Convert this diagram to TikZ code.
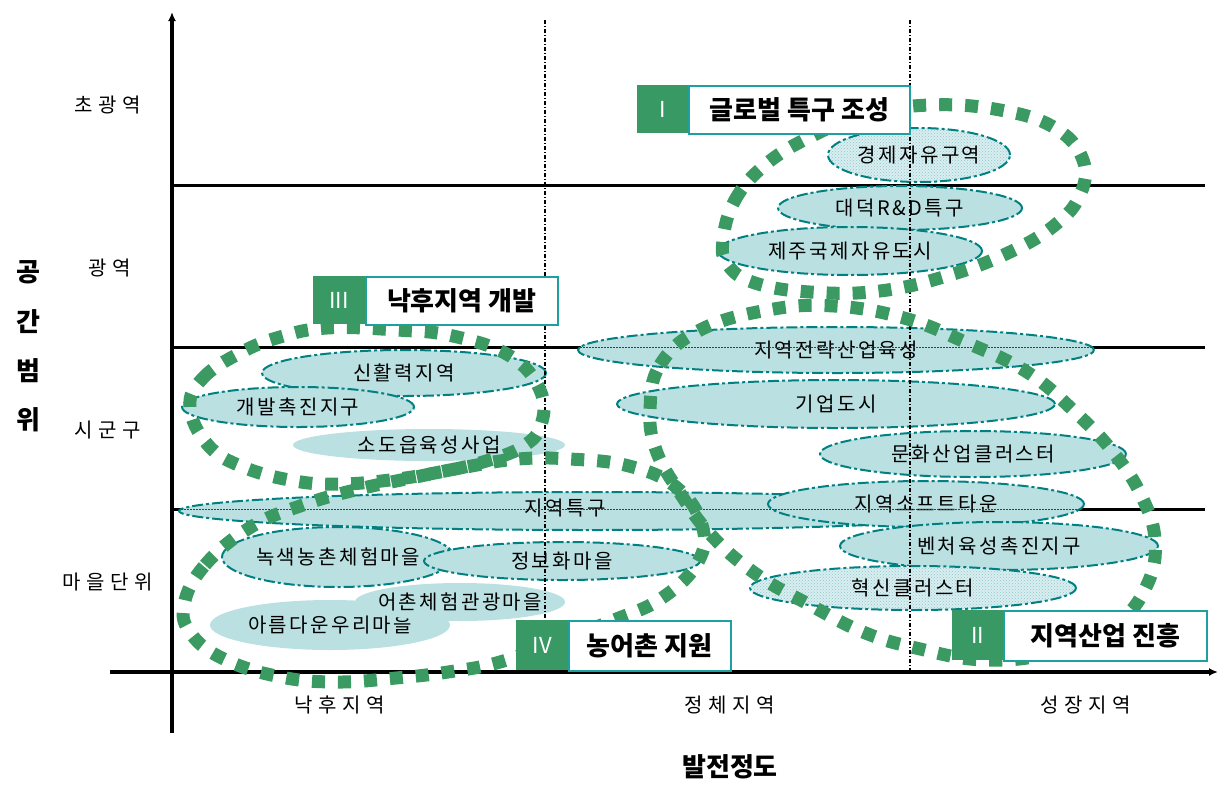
\documentclass[tikz,border=0pt]{standalone}
\usepackage{fontspec}
\setmainfont{Noto Sans CJK KR}
\newfontfamily\regfont{Noto Sans CJK KR}[LetterSpace=12]
\newfontfamily\axfont{Noto Sans CJK KR}[LetterSpace=28]
\usetikzlibrary{shapes.geometric,arrows.meta,patterns}
\definecolor{dotgreen}{RGB}{58,154,98}
\definecolor{boxgreen}{RGB}{56,153,100}
\definecolor{ellfill}{RGB}{186,224,226}
\definecolor{ellline}{RGB}{0,128,128}
\definecolor{patfill}{RGB}{218,238,240}
\definecolor{patdot}{RGB}{140,200,205}
\definecolor{boxline}{RGB}{30,160,160}
\tikzset{
  axisline/.style={line width=3.5pt, -{Latex[length=9pt,width=8pt]}},
  gridline/.style={line width=3pt, black},
  seethru/.style={line width=1pt, black!75, dash pattern=on 1.5pt off 1.5pt},
  vdash/.style={line width=1.1pt, dash pattern=on 4pt off 2pt on 1pt off 2pt},
  regbase/.style={ellipse, inner ysep=0pt, inner xsep=-30pt, font=\regfont\fontsize{20}{20}\selectfont},
  reg/.style={regbase, fill=ellfill, draw=ellline, line width=2pt,
    dash pattern=on 11pt off 3pt on 3pt off 3pt},
  regplain/.style={regbase, fill=ellfill},
  regpat/.style={regbase, preaction={fill=patfill}, pattern=crosshatch dots,
    pattern color=patdot, draw=ellline, line width=2pt,
    dash pattern=on 11pt off 3pt on 3pt off 3pt},
  loopdots/.style={draw=dotgreen, line width=13pt, dash pattern=on 13pt off 13pt},
  numbox/.style={fill=boxgreen, inner sep=0pt, minimum height=48pt, anchor=north west,
    text=white, font=\fontsize{22}{22}\selectfont},
  titlebox/.style={draw=boxline, fill=white, line width=1.5pt, inner sep=0pt,
    minimum height=48pt, anchor=north west, font=\bfseries\fontsize{26}{26}\selectfont},
  axtext/.style={font=\axfont\fontsize{20}{20}\selectfont},
  axtitle/.style={font=\bfseries\fontsize{26}{26}\selectfont},
}
\begin{document}
\begin{tikzpicture}[x=1pt,y=-1pt]
\useasboundingbox (0,0) rectangle (1223,798);

% axes and grid
\coordinate (yb) at (172,733);
\coordinate (yt) at (172,12);
\coordinate (xl) at (110,672);
\coordinate (xr) at (1218,672);
\coordinate (gaL) at (172,185);
\coordinate (gaR) at (1205,185);
\coordinate (gbL) at (172,347);
\coordinate (gbR) at (1205,347);
\coordinate (gcL) at (172,509);
\coordinate (gcR) at (1205,509);
\draw[gridline] (gaL) -- (gaR);
\draw[gridline] (gbL) -- (gbR);
\draw[gridline] (gcL) -- (gcR);
\draw[axisline] (yb) -- (yt);
\draw[axisline] (xl) -- (xr);

% region ellipses
\node[regplain, minimum width=272pt, minimum height=32pt] (e13) at (429,445) {소도읍육성사업};
\node[regplain, minimum width=240pt, minimum height=50pt] (e16) at (330,625) {아름다운우리마을};
\node[regplain, minimum width=210pt, minimum height=38pt] (e17) at (460,602) {어촌체험관광마을};

\node[regpat, minimum width=182pt, minimum height=54pt] (e1) at (919,155) {경제자유구역};
\node[reg, minimum width=244pt, minimum height=44pt] (e2) at (900,208) {대덕R\&D특구};
\node[reg, minimum width=264pt, minimum height=48pt] (e3) at (850,251) {제주국제자유도시};
\node[reg, minimum width=516pt, minimum height=46pt] (e4) at (836,350) {지역전략산업육성};
\node[reg, minimum width=438pt, minimum height=48pt] (e5) at (836,404) {기업도시};
\node[reg, minimum width=306pt, minimum height=46pt] (e6) at (973,454) {문화산업클러스터};
\node[reg, minimum width=822pt, minimum height=38pt] (e7) at (590,511) {};
\node[reg, minimum width=316pt, minimum height=46pt] (e8) at (926,504) {지역소프트타운};
\node[reg, minimum width=318pt, minimum height=48pt] (e9) at (999,546) {벤처육성촉진지구};
\node[regpat, minimum width=326pt, minimum height=44pt] (e10) at (913,588) {혁신클러스터};
\node[reg, minimum width=284pt, minimum height=46pt] (e11) at (404,373) {신활력지역};
\node[reg, minimum width=232pt, minimum height=40pt] (e12) at (298,407) {개발촉진지구};
\node[reg, minimum width=232pt, minimum height=60pt] (e14) at (338,557) {녹색농촌체험마을};
\node[reg, minimum width=276pt, minimum height=38pt] (e15) at (562,561) {정보화마을};
\node[font=\regfont\fontsize{20}{20}\selectfont] (e7t) at (565,508) {지역특구};

% lines showing through the regions
\begin{scope}
  \clip (e4.center) ellipse [x radius=258pt, y radius=23pt]
        (e1.center) ellipse [x radius=91pt, y radius=27pt]
        (e2.center) ellipse [x radius=122pt, y radius=22pt]
        (e7.center) ellipse [x radius=411pt, y radius=19pt]
        (e8.center) ellipse [x radius=158pt, y radius=23pt];
  \draw[seethru] (gaL) -- (gaR);
  \draw[seethru] (gbL) -- (gbR);
  \draw[seethru] (gcL) -- (gcR);
\end{scope}
\coordinate (va) at (545,20);
\coordinate (vab) at (545,672);
\coordinate (vb) at (910,20);
\coordinate (vbb) at (910,672);
\draw[vdash] (va) -- (vab);
\draw[vdash] (vb) -- (vbb);

% dotted loops
\draw[loopdots] plot[smooth cycle, tension=0.7] coordinates {
  (723,240) (735,200) (765,165) (810,137) (865,115) (930,105) (1000,110) (1055,128)
  (1083,160) (1080,195) (1055,225) (1010,252) (950,275) (880,291) (810,292) (755,283) (728,265)};
\draw[loopdots] plot[smooth cycle, tension=0.7] coordinates {
  (650,410) (660,365) (700,330) (768,310) (834,306) (904,318) (965,342) (1027,372)
  (1075,412) (1113,452) (1141,495) (1155,540) (1147,585) (1115,625) (1055,652) (985,660)
  (916,648) (863,632) (810,605) (756,574) (711,535) (678,490) (656,450)};
\draw[loopdots] plot[smooth cycle, tension=0.7] coordinates {
  (190,407) (203,378) (240,353) (280,337) (327,328) (397,330) (453,336) (510,356)
  (540,390) (541,425) (522,447) (483,462) (440,472) (390,480) (340,484) (295,481)
  (243,467) (208,445)};
\draw[loopdots] plot[smooth cycle, tension=0.7] coordinates {
  (184,605) (205,565) (251,527) (303,505) (355,490) (411,478) (466,467) (518,459)
  (570,459) (629,466) (676,487) (702,525) (698,562) (662,598) (614,620) (560,640)
  (500,662) (448,672) (396,678) (337,682) (281,677) (226,660) (192,635)};

% group boxes
\node[numbox, minimum width=51pt] (n1) at (637,85) {I};
\node[titlebox, minimum width=221pt] (t1) at (688,85) {글로벌 특구 조성};
\node[numbox, minimum width=52pt] (n3) at (313,276) {III};
\node[titlebox, minimum width=192pt] (t3) at (365,276) {낙후지역 개발};
\node[numbox, minimum width=52pt, minimum height=50pt] (n4) at (516,620) {IV};
\node[titlebox, minimum width=162pt, minimum height=50pt] (t4) at (568,620) {농어촌 지원};
\node[numbox, minimum width=51pt, minimum height=50pt] (n2) at (952,610) {II};
\node[titlebox, minimum width=203pt, minimum height=50pt] (t2) at (1003,610) {지역산업 진흥};

% axis labels
\node[axtext] (y1) at (108,105) {초광역};
\node[axtext] (y2) at (110,268) {광역};
\node[axtext] (y3) at (108,430) {시군구};
\node[axtext] (y4) at (108,582) {마을단위};
\node[axtitle] (ya) at (28,272) {공};
\node[axtitle] (yb2) at (28,322) {간};
\node[axtitle] (yc) at (28,371) {범};
\node[axtitle] (yd) at (28,420) {위};
\node[axtext] (x1) at (340,705) {낙후지역};
\node[axtext] (x2) at (730,705) {정체지역};
\node[axtext] (x3) at (1086,705) {성장지역};
\node[axtitle] (xt) at (730,767) {발전정도};
\end{tikzpicture}
\end{document}
